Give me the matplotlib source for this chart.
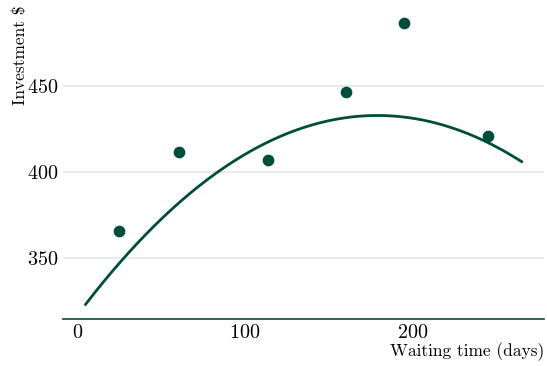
import matplotlib
matplotlib.use('Agg')
import matplotlib.pyplot as plt
import numpy as np

plt.rcParams['font.family'] = 'cmr10'
plt.rcParams['mathtext.fontset'] = 'cm'
plt.rcParams['axes.formatter.use_mathtext'] = True

# observed investments
days = [25, 61, 114, 160, 195, 245]
investment = [366, 412, 407, 446.5, 487, 421]

# quadratic trend line (coefficients) and its range
trend_coefs = [-0.00363, 1.2995, 316.7]
trend_range = [5, 265]

y_ticks = [350, 400, 450]
x_ticks = [0, 100, 200]

green = '#004d3a'

fig, ax = plt.subplots(figsize=(5.47, 3.66), dpi=100)
fig.subplots_adjust(left=0.115, right=0.995, top=0.985, bottom=0.128)

xs = np.linspace(trend_range[0], trend_range[1], 200)
ax.plot(xs, np.polyval(trend_coefs, xs), color=green, lw=2, zorder=3)
ax.scatter(days, investment, s=55, color=green, zorder=4)

ax.set_xlim(-8.5, 278.5)
ax.set_ylim(314.5, 497)
ax.set_xticks(x_ticks)
ax.set_yticks(y_ticks)
ax.tick_params(length=0, labelsize=14.5, pad=3.5)

ax.grid(axis='y', color='#e4ece9', lw=1.3)
ax.set_axisbelow(True)
for side in ['left', 'right', 'top']:
    ax.spines[side].set_visible(False)
ax.spines['bottom'].set_color(green)
ax.spines['bottom'].set_linewidth(1.2)

ax.set_xlabel('Waiting time (days)', loc='right', fontsize=12.5)
ax.set_ylabel('Investment \\$', loc='top', fontsize=12.5)
ax.xaxis.set_label_coords(1.0, -0.074)
ax.yaxis.set_label_coords(-0.072, 1.0)

fig.savefig('out.png')
